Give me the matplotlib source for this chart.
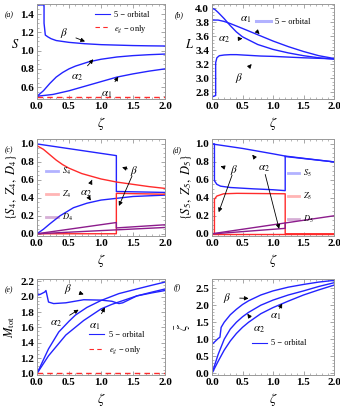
import numpy as np
import matplotlib
matplotlib.use('Agg')
import matplotlib.pyplot as plt
from matplotlib.ticker import MultipleLocator
from matplotlib.lines import Line2D

plt.rcParams['font.family'] = ['Liberation Serif', 'DejaVu Serif']
plt.rcParams['mathtext.fontset'] = 'stix'

BLUE = '#2323ff'
RED = '#ff2b2b'
PURPLE = '#8c1c8c'

# ---------------- (a) S ----------------
a_beta_x = [0, 0.11, 0.11, 0.13, 0.17, 0.22, 0.3, 0.4, 0.5, 0.75, 1.0, 1.25, 1.5, 1.75, 2.0]
a_beta_y = [1.5, 1.5, 1.30, 1.17, 1.15, 1.13, 1.11, 1.10, 1.09, 1.075, 1.065, 1.06, 1.055, 1.052, 1.05]
a_al2_x = [0, 0.1, 0.2, 0.3, 0.4, 0.5, 0.6, 0.8, 1.0, 1.25, 1.5, 1.75, 2.0]
a_al2_y = [0.5, 0.56, 0.64, 0.71, 0.76, 0.80, 0.83, 0.875, 0.905, 0.93, 0.945, 0.955, 0.962]
a_al1_x = [0, 0.25, 0.5, 0.75, 1.0, 1.25, 1.5, 1.75, 2.0]
a_al1_y = [0.5, 0.52, 0.56, 0.61, 0.66, 0.71, 0.745, 0.775, 0.80]
a_eg_x = [0, 2.0]
a_eg_y = [0.49, 0.49]

# ---------------- (b) L ----------------
b_al1_x = [0, 0.1, 0.2, 0.3, 0.5, 0.75, 1.0, 1.25, 1.5, 1.75, 2.0]
b_al1_y = [3.83, 3.83, 3.81, 3.78, 3.71, 3.62, 3.53, 3.45, 3.38, 3.32, 3.28]
b_al2_x = [0, 0.05, 0.1, 0.2, 0.3, 0.4, 0.5, 0.75, 1.0, 1.25, 1.5, 1.75, 2.0]
b_al2_y = [4.0, 3.98, 3.94, 3.85, 3.75, 3.66, 3.59, 3.48, 3.41, 3.36, 3.32, 3.29, 3.27]
b_beta_x = [0, 0.06, 0.06, 0.08, 0.12, 0.2, 0.3, 0.4, 0.6, 0.8, 1.0, 1.5, 2.0]
b_beta_y = [2.73, 2.75, 3.22, 3.29, 3.32, 3.33, 3.335, 3.335, 3.325, 3.315, 3.31, 3.29, 3.275]

# ---------------- (c) S4, Z4, D4 ----------------
c_S4b_x = [0, 1.24, 1.24, 1.3, 2.0]
c_S4b_y = [1.0, 0.87, 0.47, 0.47, 0.46]
c_S4a_x = [0, 0.1, 0.2, 0.36, 0.57, 0.78, 1.0, 1.25, 1.5, 2.0]
c_S4a_y = [0.0, 0.05, 0.11, 0.20, 0.29, 0.34, 0.375, 0.395, 0.415, 0.43]
c_Z4a_x = [0, 0.1, 0.2, 0.3, 0.4, 0.5, 0.7, 1.0, 1.25, 1.5, 1.75, 2.0]
c_Z4a_y = [0.98, 0.94, 0.88, 0.82, 0.77, 0.73, 0.67, 0.61, 0.575, 0.55, 0.525, 0.505]
c_Z4b_x = [0, 1.24, 1.24, 2.0]
c_Z4b_y = [0.0, 0.0, 0.45, 0.44]
c_D4b_x = [0, 1.24, 1.24, 2.0]
c_D4b_y = [0.0, 0.125, 0.065, 0.10]
c_D4a_x = [0, 2.0]
c_D4a_y = [0.0, 0.07]

# ---------------- (d) S5, Z5, D5 ----------------
d_S5b_x = [0, 0.04, 0.04, 0.08, 0.14, 0.3, 0.68, 1.0, 1.2, 1.2]
d_S5b_y = [1.0, 1.0, 0.59, 0.55, 0.53, 0.515, 0.50, 0.49, 0.48, 0.86]
d_S5a_x = [0, 0.5, 1.0, 1.2, 1.5, 2.0]
d_S5a_y = [1.0, 0.95, 0.89, 0.865, 0.84, 0.80]
d_Z5b_x = [0, 0.04, 0.04, 0.08, 0.19, 0.41, 1.2, 1.2, 2.0]
d_Z5b_y = [0.0, 0.0, 0.385, 0.42, 0.445, 0.45, 0.445, 0.0, 0.0]
d_Z5a_x = [0, 2.0]
d_Z5a_y = [0.0, 0.0]
d_D5a_x = [0, 2.0]
d_D5a_y = [0.0, 0.20]
d_D5b_x = [0.04, 1.2, 1.2]
d_D5b_y = [0.0, 0.06, 0.12]

# ---------------- (e) M_tot ----------------
e_beta_x = [0, 0.01, 0.05, 0.12, 0.14, 0.18, 0.26, 0.45, 0.73, 1.0, 1.17, 1.28, 1.34, 1.56, 1.8, 2.0]
e_beta_y = [2.22, 2.02, 2.03, 2.06, 2.08, 1.93, 1.91, 1.92, 1.96, 1.955, 1.94, 1.91, 1.92, 2.01, 2.05, 2.08]
e_al2_x = [0, 0.18, 0.34, 0.5, 0.6, 0.78, 1.0, 1.28, 1.56, 1.8, 2.0]
e_al2_y = [1.0, 1.32, 1.54, 1.68, 1.76, 1.86, 1.95, 2.04, 2.10, 2.15, 2.19]
e_al1_x = [0, 0.18, 0.45, 0.73, 1.0, 1.17, 1.56, 1.8, 2.0]
e_al1_y = [1.0, 1.23, 1.50, 1.69, 1.84, 1.90, 2.01, 2.06, 2.10]
e_eg_x = [0, 2.0]
e_eg_y = [1.0, 1.0]

# ---------------- (f) zeta bar ----------------
f_beta_x = [0, 0.1, 0.13, 0.15, 0.2, 0.3, 0.4, 0.5, 0.6, 0.8, 1.0, 1.25, 1.5, 1.75, 2.0]
f_beta_y = [0.85, 1.02, 1.06, 1.35, 1.5, 1.72, 1.88, 2.02, 2.13, 2.3, 2.42, 2.53, 2.61, 2.68, 2.73]
f_al2_x = [0, 0.1, 0.2, 0.3, 0.4, 0.5, 0.6, 0.8, 1.0, 1.25, 1.5, 1.75, 2.0]
f_al2_y = [0, 0.55, 1.0, 1.3, 1.5, 1.66, 1.79, 2.0, 2.15, 2.3, 2.42, 2.55, 2.66]
f_al1_x = [0, 0.1, 0.2, 0.3, 0.4, 0.5, 0.6, 0.8, 1.0, 1.25, 1.5, 1.75, 2.0]
f_al1_y = [0, 0.35, 0.68, 0.95, 1.17, 1.35, 1.5, 1.75, 1.93, 2.12, 2.3, 2.45, 2.59]

xticks = [0.0, 0.5, 1.0, 1.5, 2.0]

# --------------------
# draw
# --------------------
fig = plt.figure(figsize=(3.4, 4.13), dpi=100)

colL, wL = 37 / 340, 128 / 340
colR, wR = 212 / 340, 122 / 340
rows = [(1 - 99 / 413, 95 / 413), (1 - 236 / 413, 97 / 413), (1 - 375 / 413, 96 / 413)]


def make_ax(col, w, row):
    b, h = rows[row]
    ax = fig.add_axes([col, b, w, h])
    return ax


def style(ax, ylim, ymaj, ymin, ylab, rot=90, ypad=2):
    ax.set_xlim(0, 2.0)
    ax.set_ylim(*ylim)
    ax.set_xticks(xticks)
    ax.xaxis.set_minor_locator(MultipleLocator(0.1))
    ax.yaxis.set_major_locator(MultipleLocator(ymaj))
    ax.yaxis.set_minor_locator(MultipleLocator(ymin))
    ax.tick_params(which='both', direction='in', top=True, right=True,
                   color='#999999', labelsize=8, pad=2)
    ax.tick_params(which='major', length=3, width=0.6)
    ax.tick_params(which='minor', length=1.6, width=0.5)
    for s in ax.spines.values():
        s.set_color('#999999')
        s.set_linewidth(0.7)
    for t in ax.get_xticklabels() + ax.get_yticklabels():
        t.set_fontweight('bold')
    ax.xaxis.set_major_formatter(matplotlib.ticker.FormatStrFormatter('%.1f'))
    ax.yaxis.set_major_formatter(matplotlib.ticker.FormatStrFormatter('%.1f'))
    ax.set_xlabel(r'$\zeta$', fontsize=10, labelpad=3)
    ax.set_ylabel(ylab, fontsize=9, rotation=rot, labelpad=ypad)


def note(ax, txt, xytext, heads):
    for i, xy in enumerate(heads):
        ax.annotate(txt if i == 0 else '', xy=xy, xytext=xytext, fontsize=8,
                    ha='center', va='center',
                    arrowprops=dict(arrowstyle='-|>', color='k', lw=0.6,
                                    mutation_scale=6, shrinkA=4, shrinkB=0))


def legend(ax, handles, labels, anchor, spacing=0.5, hl=1.8):
    lg = ax.legend(handles, labels, loc='upper left', bbox_to_anchor=anchor,
                   frameon=False, fontsize=6, handlelength=hl, handletextpad=0.5,
                   borderpad=0, borderaxespad=0, labelspacing=spacing)
    return lg


lw = 1.0

# (a)
ax = make_ax(colL, wL, 0)
ax.plot(a_beta_x, a_beta_y, color=BLUE, lw=lw)
ax.plot(a_al2_x, a_al2_y, color=BLUE, lw=lw)
ax.plot(a_al1_x, a_al1_y, color=BLUE, lw=lw)
ax.plot(a_eg_x, a_eg_y, color=RED, lw=lw, ls=(0, (4, 3)))
style(ax, (0.47, 1.51), 0.2, 0.05, r'$S$', rot=0, ypad=4)
note(ax, r'$\beta$', (0.42, 1.19), [(0.75, 1.10)])
note(ax, r'$\alpha_2$', (0.62, 0.70), [(0.88, 0.905)])
note(ax, r'$\alpha_1$', (1.09, 0.52), [(1.27, 0.715)])
legend(ax, [Line2D([], [], color=BLUE, lw=0.8), Line2D([], [], color=RED, lw=0.8, ls=(0, (4, 3)))],
       ['5 − orbital', r'$e_g$ − only'], (0.45, 0.93))

# (b)
ax = make_ax(colR, wR, 0)
ax.plot(b_al1_x, b_al1_y, color=BLUE, lw=lw)
ax.plot(b_al2_x, b_al2_y, color=BLUE, lw=lw)
ax.plot(b_beta_x, b_beta_y, color=BLUE, lw=lw)
style(ax, (2.70, 4.06), 0.2, 0.05, r'$L$', rot=0, ypad=4)
note(ax, r'$\alpha_1$', (0.55, 3.83), [(0.78, 3.63)])
note(ax, r'$\alpha_2$', (0.2, 3.55), [(0.5, 3.565)])
note(ax, r'$\beta$', (0.45, 3.0), [(0.65, 3.20)])
legend(ax, [Line2D([], [], color=BLUE, lw=2.2, alpha=0.35)], ['5 − orbital'], (0.36, 0.85))

# (c)
ax = make_ax(colL, wL, 1)
ax.plot(c_S4b_x, c_S4b_y, color=BLUE, lw=lw)
ax.plot(c_S4a_x, c_S4a_y, color=BLUE, lw=lw)
ax.plot(c_Z4a_x, c_Z4a_y, color=RED, lw=lw)
ax.plot(c_Z4b_x, c_Z4b_y, color=RED, lw=lw)
ax.plot(c_D4b_x, c_D4b_y, color=PURPLE, lw=lw)
ax.plot(c_D4a_x, c_D4a_y, color=PURPLE, lw=lw)
style(ax, (-0.025, 1.055), 0.2, 0.05, r'$\{S_4,\ Z_4,\ D_4\}$', ypad=1)
note(ax, r'$\beta$', (1.52, 0.70), [(1.33, 0.74), (1.28, 0.31)])
note(ax, r'$\alpha_2$', (0.77, 0.45), [(0.86, 0.60), (0.84, 0.37)])
legend(ax, [Line2D([], [], color=BLUE, lw=2, alpha=0.35),
            Line2D([], [], color=RED, lw=2, alpha=0.35),
            Line2D([], [], color=PURPLE, lw=2, alpha=0.35)],
       [r'$S_4$', r'$Z_4$', r'$D_4$'], (0.07, 0.72), spacing=1.4, hl=1.4)

# (d)
ax = make_ax(colR, wR, 1)
ax.plot(d_S5a_x, d_S5a_y, color=BLUE, lw=lw)
ax.plot(d_S5b_x, d_S5b_y, color=BLUE, lw=lw)
ax.plot([d_S5b_x[-1], 2.0], [d_S5b_y[-1], 0.80], color=BLUE, lw=lw)
ax.plot(d_Z5a_x, d_Z5a_y, color=RED, lw=lw)
ax.plot(d_Z5b_x, d_Z5b_y, color=RED, lw=lw)
ax.plot(d_D5a_x, d_D5a_y, color=PURPLE, lw=lw)
ax.plot(d_D5b_x, d_D5b_y, color=PURPLE, lw=lw)
style(ax, (-0.025, 1.055), 0.2, 0.05, r'$\{S_5,\ Z_5,\ D_5\}$', ypad=1)
note(ax, r'$\beta$', (0.36, 0.71), [(0.14, 0.75), (0.11, 0.24)])
note(ax, r'$\alpha_2$', (0.85, 0.72), [(0.66, 0.88), (1.1, 0.055)])
legend(ax, [Line2D([], [], color=BLUE, lw=2, alpha=0.35),
            Line2D([], [], color=RED, lw=2, alpha=0.35),
            Line2D([], [], color=PURPLE, lw=2, alpha=0.35)],
       [r'$S_5$', r'$Z_5$', r'$D_5$'], (0.62, 0.70), spacing=1.4, hl=1.4)

# (e)
ax = make_ax(colL, wL, 2)
ax.plot(e_beta_x, e_beta_y, color=BLUE, lw=lw)
ax.plot(e_al2_x, e_al2_y, color=BLUE, lw=lw)
ax.plot(e_al1_x, e_al1_y, color=BLUE, lw=lw)
ax.plot(e_eg_x, e_eg_y, color=RED, lw=lw, ls=(0, (4, 3)))
style(ax, (0.98, 2.23), 0.2, 0.05, r'$M_{\rm tot}$', ypad=2)
note(ax, r'$\beta$', (0.48, 2.10), [(0.73, 2.03)])
note(ax, r'$\alpha_2$', (0.30, 1.65), [(0.65, 1.83)])
note(ax, r'$\alpha_1$', (0.90, 1.61), [(1.06, 1.86)])
legend(ax, [Line2D([], [], color=BLUE, lw=0.8), Line2D([], [], color=RED, lw=0.8, ls=(0, (4, 3)))],
       ['5 − orbital', r'$e_g$ − only'], (0.41, 0.46), spacing=0.6)

# (f)
ax = make_ax(colR, wR, 2)
ax.plot(f_beta_x, f_beta_y, color=BLUE, lw=lw)
ax.plot(f_al2_x, f_al2_y, color=BLUE, lw=lw)
ax.plot(f_al1_x, f_al1_y, color=BLUE, lw=lw)
style(ax, (-0.05, 2.77), 0.5, 0.1, r'$\bar{\zeta}$', ypad=2)
note(ax, r'$\beta$', (0.25, 2.22), [(0.60, 2.2)])
note(ax, r'$\alpha_2$', (0.77, 1.27), [(0.58, 1.75)])
note(ax, r'$\alpha_1$', (1.04, 1.67), [(1.15, 2.05)])
legend(ax, [Line2D([], [], color=BLUE, lw=0.8)], ['5 − orbital'], (0.33, 0.37))

# panel tags
for tag, (px, py) in zip(['(a)', '(b)', '(c)', '(d)', '(e)', '(f)'],
                         [(9, 15), (179, 15), (9, 150), (177, 150), (9, 290), (177, 288)]):
    fig.text(px / 340, 1 - py / 413, tag, fontsize=5.5, style='italic', ha='center', va='center')

fig.savefig('out.png', dpi=100)
